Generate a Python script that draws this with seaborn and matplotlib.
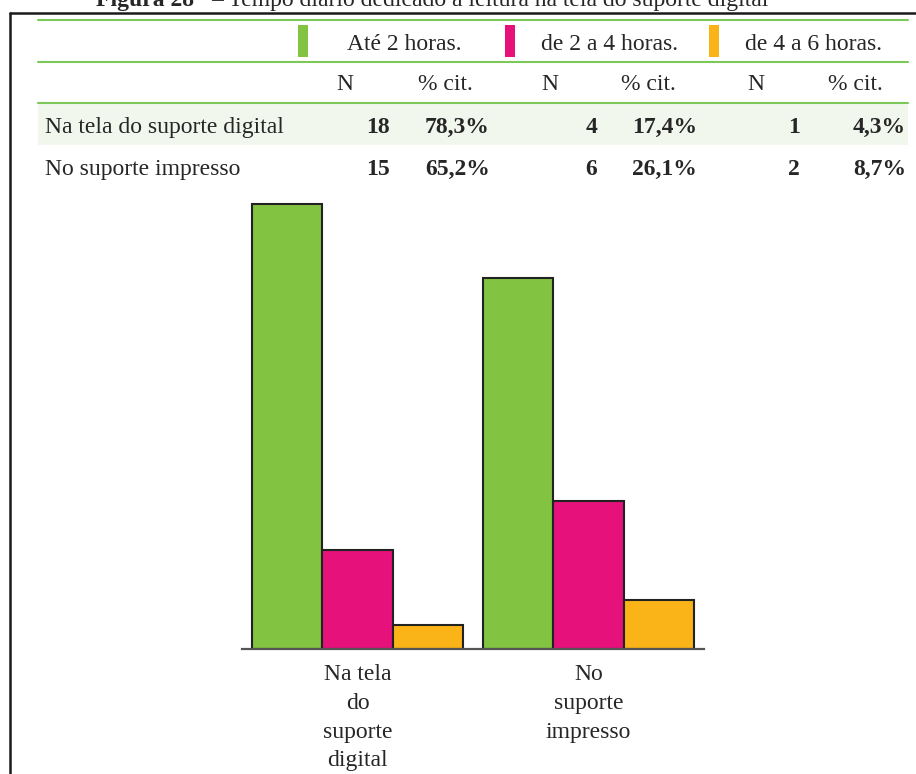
import pandas as pd
import matplotlib.pyplot as plt
import seaborn as sns
from matplotlib.patches import Rectangle
from matplotlib.lines import Line2D

# data
locais = ['Na tela do suporte digital', 'No suporte impresso']
locais_eixo = ['Na tela\ndo\nsuporte\ndigital', 'No\nsuporte\nimpresso']
tempos = ['Até 2 horas.', 'de 2 a 4 horas.', 'de 4 a 6 horas.']
n_tela = [18, 4, 1]
n_impresso = [15, 6, 2]
pct_tela = [78.3, 17.4, 4.3]
pct_impresso = [65.2, 26.1, 8.7]
cores = ['#82c341', '#e6117b', '#fbb417']

df = pd.DataFrame({
    'local': [locais_eixo[0]] * 3 + [locais_eixo[1]] * 3,
    'tempo': tempos * 2,
    'pct': pct_tela + pct_impresso,
})

sns.set_style('white')
plt.rcParams['font.family'] = ['Liberation Serif', 'DejaVu Serif']

W, H = 916, 774
fig = plt.figure(figsize=(W / 100, H / 100), dpi=100)
fs = 17

def fx(x):
    return x / W

def fy(y):
    return 1 - y / H

# bar chart area (pixel box)
ax = fig.add_axes([fx(242), fy(649), fx(704) - fx(242), fy(190) - fy(649)])
sns.barplot(data=df, x='local', y='pct', hue='tempo', hue_order=tempos,
            palette=cores, width=0.91, edgecolor='#222222', linewidth=1.5,
            saturation=1, legend=False, ax=ax)
ax.set_xlim(-0.5, 1.5)
ax.set_ylim(0, 80.76)
ax.set_xlabel('')
ax.set_ylabel('')
ax.set_yticks([])
for s in ['top', 'left', 'right']:
    ax.spines[s].set_visible(False)
ax.spines['bottom'].set_color('#555555')
ax.spines['bottom'].set_linewidth(1.6)
ax.tick_params(axis='x', length=0, pad=11, labelsize=fs)
for lab in ax.get_xticklabels():
    lab.set_linespacing(1.48)

# title (cut by the top of the image, as in the source)
fig.text(fx(96), fy(6), 'Figura 28', fontsize=fs, fontweight='bold', va='baseline')
fig.text(fx(211), fy(6), '– Tempo diário dedicado à leitura na tela do suporte digital',
         fontsize=fs, va='baseline')

# frame
fig.add_artist(Line2D([fx(10), fx(916)], [fy(13), fy(13)], color='#1a1a1a', lw=1.8))
fig.add_artist(Line2D([fx(10), fx(10)], [fy(13), fy(774)], color='#1a1a1a', lw=1.8))

# table lines and shaded row
verde = '#7cc95a'
for yy in [20, 62, 103]:
    fig.add_artist(Line2D([fx(38), fx(908)], [fy(yy), fy(yy)], color=verde, lw=1.5))
fig.add_artist(Rectangle((fx(38), fy(145)), fx(908) - fx(38), fy(104) - fy(145),
                         facecolor='#f2f7ee', edgecolor='none', zorder=0))

# legend inside the table header
sw_x = [298, 505, 709]
txt_x = [347, 541, 745]
for i in range(3):
    fig.add_artist(Rectangle((fx(sw_x[i]), fy(57)), fx(10), fy(25) - fy(57),
                             facecolor=cores[i], edgecolor='none'))
    fig.text(fx(txt_x[i]), fy(50), tempos[i], fontsize=fs, va='baseline')

# column headers
n_cx = [345, 550, 756]
p_cx = [445, 648, 855]
for i in range(3):
    fig.text(fx(n_cx[i]), fy(90), 'N', fontsize=fs, ha='center', va='baseline')
    fig.text(fx(p_cx[i]), fy(90), '% cit.', fontsize=fs, ha='center', va='baseline')

# table rows
n_right = [390, 597, 800]
p_right = [490, 697, 906]
linhas = [(133, n_tela, pct_tela), (175, n_impresso, pct_impresso)]
for (yb, ns, ps), nome in zip(linhas, locais):
    fig.text(fx(45), fy(yb), nome, fontsize=fs, va='baseline')
    for i in range(3):
        fig.text(fx(n_right[i]), fy(yb), str(ns[i]), fontsize=fs,
                 fontweight='bold', ha='right', va='baseline')
        fig.text(fx(p_right[i]), fy(yb), f'{ps[i]:.1f}%'.replace('.', ','),
                 fontsize=fs, fontweight='bold', ha='right', va='baseline')

fig.savefig('out.png', dpi=100)
